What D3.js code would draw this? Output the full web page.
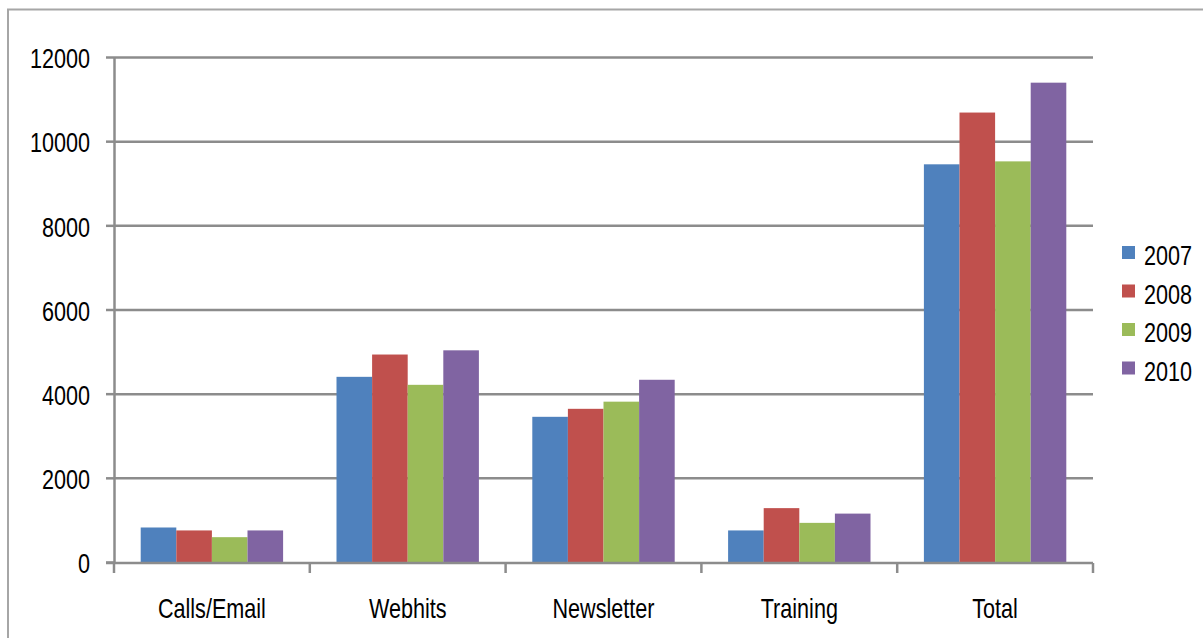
<!DOCTYPE html>
<html><head><meta charset="utf-8">
<script src="https://cdn.jsdelivr.net/npm/d3@7"></script>
<style>
html,body{margin:0;padding:0;background:#fff;}
svg{display:block;}
text{font-family:"Liberation Sans",Arial,sans-serif;fill:#000;}
</style></head>
<body>
<svg id="chart" width="1203" height="638"></svg>
<script>
const categories = ["Calls/Email","Webhits","Newsletter","Training","Total"];
const seriesNames = ["2007","2008","2009","2010"];
const values2007 = [820, 4400, 3450, 750, 9450];
const values2008 = [750, 4930, 3640, 1280, 10680];
const values2009 = [590, 4210, 3810, 930, 9520];
const values2010 = [750, 5030, 4330, 1150, 11390];
const yTicks = [0, 2000, 4000, 6000, 8000, 10000, 12000];
const colors = ["#4F81BD","#C0504D","#9BBB59","#8064A2"];

const seriesValues = [values2007, values2008, values2009, values2010];
const svg = d3.select("#chart");
const SX = 0.8; // condensed text look
function narrow(sel){
  sel.each(function(){
    const t = d3.select(this);
    const x = +t.attr("x") || 0;
    t.attr("x", x / SX).attr("transform", `scale(${SX},1)`);
  });
}

// outer chart border (left and top visible)
svg.append("path")
  .attr("d","M8,640 L8,9.5 L1210,9.5")
  .attr("fill","none").attr("stroke","#a6a6a6").attr("stroke-width",2);

const pL = 114, pR = 1093, pT = 57, pB = 562;
const x0 = d3.scaleBand().domain(categories).range([pL, pR]).padding(0);
const bw = x0.bandwidth();
const barW = bw / 5.5;
const x1 = d3.scaleBand().domain(seriesNames).range([barW*0.75, bw - barW*0.75]).padding(0);
const y = d3.scaleLinear().domain([0, 12000]).range([pB, pT]);

// gridlines
const grid = svg.append("g").attr("transform",`translate(${pL},0)`)
  .call(d3.axisLeft(y).tickValues(yTicks.filter(d=>d>0)).tickSize(-(pR-pL)).tickFormat(""));
grid.select(".domain").remove();
grid.selectAll("line").attr("stroke","#8c8c8c").attr("stroke-width",2.5);

// bars
const groups = svg.append("g").selectAll("g").data(categories).join("g")
  .attr("transform", c => `translate(${x0(c)},0)`);
groups.selectAll("rect")
  .data((c,i) => seriesNames.map((s,j) => ({s, v: seriesValues[j][i], j})))
  .join("rect")
  .attr("x", d => x1(d.s))
  .attr("width", x1.bandwidth())
  .attr("y", d => y(d.v))
  .attr("height", d => y(0) - y(d.v))
  .attr("fill", d => colors[d.j]);

// y axis
const yAx = svg.append("g").attr("transform",`translate(${pL},0)`)
  .call(d3.axisLeft(y).tickValues(yTicks).tickSize(8).tickPadding(16).tickFormat(d3.format("d")));
yAx.attr("font-family",null).attr("font-size",null);
yAx.select(".domain").attr("stroke","#8c8c8c").attr("stroke-width",2.5)
  .attr("d",`M0.5,${pT}V${pB+1}`);
yAx.selectAll(".tick line").attr("stroke","#8c8c8c").attr("stroke-width",2.5);
yAx.selectAll(".tick text").attr("font-size",27).attr("dy","0.4em").call(narrow);

// x axis
const xAx = svg.append("g").attr("transform",`translate(0,${pB+1})`)
  .call(d3.axisBottom(x0).tickSize(0).tickPadding(37));
xAx.attr("font-family",null).attr("font-size",null);
xAx.select(".domain").attr("stroke","#8c8c8c").attr("stroke-width",2.5)
  .attr("d",`M${pL-8},0H${pR}`);
xAx.selectAll(".tick text").attr("font-size",27).attr("dy","0").attr("y", 55).call(narrow);
// category boundary ticks
const bounds = categories.map(c => x0(c)).concat([x0(categories[categories.length-1]) + bw]);
xAx.selectAll(".bound").data(bounds).join("line").attr("class","bound")
  .attr("x1", d => d).attr("x2", d => d).attr("y1", 0).attr("y2", 10)
  .attr("stroke","#8c8c8c").attr("stroke-width",2.5);

// legend
const leg = svg.append("g").attr("transform","translate(1122,246)");
const li = leg.selectAll("g").data(seriesNames).join("g")
  .attr("transform",(d,i)=>`translate(0,${i*38.5})`);
li.append("rect").attr("width",13).attr("height",13).attr("fill",(d,i)=>colors[i]);
li.append("text").attr("x",22).attr("y",19).attr("font-size",27).text(d=>d).call(narrow);
</script>
</body></html>
